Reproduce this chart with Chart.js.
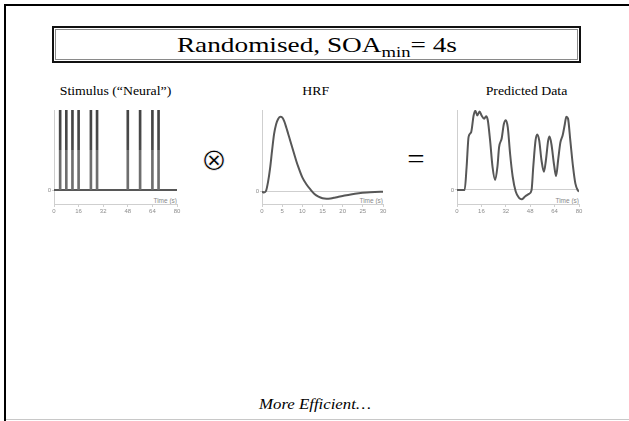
<!DOCTYPE html>
<html><head><meta charset="utf-8">
<script src="https://cdn.jsdelivr.net/npm/chart.js@4.4.1/dist/chart.umd.min.js"></script>
<style>
html,body{margin:0;padding:0;background:#fff;width:629px;height:421px;overflow:hidden;}
.abs{position:absolute;}
#lborder{left:4px;top:4px;width:2px;height:417px;background:#000;}
#tborder{left:4px;top:4px;width:625px;height:2px;background:#000;}
#bborder{left:6px;top:419px;width:623px;height:1px;background:#c8c8c8;}
#titlebox{left:52px;top:26px;width:529px;height:37px;box-sizing:border-box;border:2px solid #111;background:#fff;}
#titleinner{position:absolute;left:1px;top:1px;right:1px;bottom:1px;border:1px solid #8a8a8a;}
.serif{font-family:"Liberation Serif","Times New Roman",serif;color:#000;white-space:nowrap;}
#title{left:0;width:529px;top:26px;text-align:center;font-size:22px;line-height:37px;}
#title span.t{display:inline-block;transform:scaleX(1.24);}
#title sub{font-size:15px;vertical-align:-5px;line-height:0;}
.sub{font-size:12px;top:84px;text-align:center;width:160px;}
.sub span{display:inline-block;transform:scaleX(1.15);}
.time{font-family:"Liberation Sans",Arial,sans-serif;font-size:6.5px;color:#888;text-align:right;width:40px;top:197px;}
#foot{top:396px;left:0;width:629px;text-align:center;font-size:15px;font-style:italic;}
#foot span{display:inline-block;transform:scaleX(1.12);}
#otimes{left:201px;top:139px;font-family:'DejaVu Sans';font-weight:200;font-size:31px;line-height:40px;color:#000;-webkit-text-stroke:0.7px #fff;}
canvas{position:absolute;}
</style></head>
<body>
<div id="lborder" class="abs"></div>
<div id="tborder" class="abs"></div>
<div id="bborder" class="abs"></div>
<div id="titlebox" class="abs"><div id="titleinner"></div></div>
<div id="title" class="abs serif" style="left:52px"><span class="t">Randomised, SOA<sub>min</sub>= 4s</span></div>
<div class="abs serif sub" style="left:35px"><span>Stimulus (“Neural”)</span></div>
<div class="abs serif sub" style="left:236px"><span>HRF</span></div>
<div class="abs serif sub" style="left:446px"><span>Predicted Data</span></div>
<div id="otimes" class="abs">⊗</div>
<div class="abs serif" style="left:408px;top:142px;font-size:28px;line-height:34px;transform:scaleX(1.1);">=</div>
<div class="abs time" style="left:137px">Time (s)</div>
<div class="abs time" style="left:343px">Time (s)</div>
<div class="abs time" style="left:539px">Time (s)</div>
<div id="foot" class="abs serif"><span>More Efficient…</span></div>

<canvas id="c1" width="153" height="120" style="left:34px;top:100px;width:153px;height:120px"></canvas>
<canvas id="c2" width="151" height="120" style="left:242px;top:100px;width:151px;height:120px"></canvas>
<canvas id="c3" width="152" height="120" style="left:437px;top:100px;width:152px;height:120px"></canvas>

<script>
// ---- data ----
const stimTicks = [0, 16, 32, 48, 64, 80];
const stimOnsets = [4, 8, 12, 16, 24, 28, 48, 56, 64, 68];
const stimHeight = [1, 1, 1, 1, 1, 1, 1, 1, 1, 1];

const hrfTicks = [0, 5, 10, 15, 20, 25, 30];
const hrfTime = [0, 0.5, 1, 1.5, 2, 2.5, 3, 3.5, 4, 4.5, 5, 5.5, 6, 6.5, 7, 7.5, 8, 8.5, 9, 10, 11, 12, 13, 14, 15, 16, 17, 18, 19, 20, 22, 24, 26, 28, 30];
const hrfValue = [0, -0.01, 0.01, 0.13, 0.31, 0.55, 0.77, 0.9, 0.97, 1.0, 0.99, 0.94, 0.86, 0.77, 0.68, 0.59, 0.5, 0.41, 0.33, 0.19, 0.1, 0.03, -0.03, -0.067, -0.088, -0.094, -0.09, -0.08, -0.068, -0.057, -0.036, -0.02, -0.01, -0.004, 0];

const predTicks = [0, 16, 32, 48, 64, 80];
const predTime = [0, 5, 6.3, 7.6, 9.3, 10.9, 12, 13.3, 14.8, 16.1, 17.8, 19.1, 20.2, 21.7, 23.3, 25, 26.5, 27.6, 29.3, 30.7, 32, 33.3, 34.8, 36.5, 38.5, 40.7, 42.4, 44.6, 47.2, 48.9, 50, 51.5, 52.6, 53.9, 55.4, 57, 58.3, 59.8, 60.7, 61.9, 63.7, 65, 66.3, 67.8, 69.3, 70.7, 71.7, 72.8, 74.3, 76.1, 77.6, 79.3, 80];
const predValue = [0, 0, 0.29, 0.67, 0.73, 0.94, 1.0, 0.94, 0.99, 0.94, 0.9, 0.93, 0.88, 0.625, 0.29, 0.125, 0.29, 0.54, 0.65, 0.83, 0.88, 0.79, 0.46, 0.17, -0.02, -0.1, -0.117, -0.083, -0.05, 0, 0.29, 0.625, 0.7, 0.625, 0.375, 0.23, 0.375, 0.625, 0.675, 0.58, 0.31, 0.175, 0.375, 0.6, 0.69, 0.83, 0.925, 0.9, 0.625, 0.29, 0.083, -0.008, -0.02];

// ---- helpers ----
const LINE = '#575757';
const AXIS = '#cfcfcf';
const TICKFONT = {family: 'Liberation Sans, Arial, sans-serif', size: 6};

function makeOptions(xTicks, yMin, yMax) {
  return {
    responsive: false, animation: false,
    layout: {padding: {top: 10, right: 10, left: 0, bottom: 0}},
    plugins: {legend: {display: false}, tooltip: {enabled: false}},
    scales: {
      x: {
        type: 'linear', min: xTicks[0], max: xTicks[xTicks.length - 1], offset: false,
        afterBuildTicks: s => { s.ticks = xTicks.map(v => ({value: v})); },
        afterFit: s => { s.height = 16; },
        grid: {display: true, drawOnChartArea: false, drawTicks: true, tickLength: 3, color: AXIS, offset: false},
        border: {display: true, color: AXIS, width: 1},
        ticks: {font: TICKFONT, color: '#8c8c8c', padding: 1, maxRotation: 0, autoSkip: false}
      },
      y: {
        type: 'linear', min: yMin, max: yMax,
        afterBuildTicks: s => { s.ticks = [{value: 0}]; },
        afterFit: s => { s.width = 20; },
        grid: {display: true, drawOnChartArea: true, drawTicks: true, tickLength: 2, color: AXIS},
        border: {display: true, color: AXIS, width: 1},
        ticks: {font: TICKFONT, color: '#8c8c8c', padding: 1}
      }
    }
  };
}

function stimColor(ctx) {
  const chart = ctx.chart;
  const y = chart.scales.y;
  if (!y || !chart.chartArea) return LINE;
  const top = y.getPixelForValue(1), bot = y.getPixelForValue(0);
  const g = chart.ctx.createLinearGradient(0, top, 0, bot);
  g.addColorStop(0, '#444444');
  g.addColorStop(0.5, '#4a4a4a');
  g.addColorStop(0.5, '#6e6e6e');
  g.addColorStop(1, '#6e6e6e');
  return g;
}

// Chart 1: stimulus
new Chart(document.getElementById('c1'), {
  data: {
    datasets: [
      {type: 'bar', data: stimOnsets.map((t, i) => ({x: t, y: stimHeight[i]})),
       backgroundColor: stimColor, borderWidth: 0, barThickness: 2, grouped: false},
      {type: 'line', data: [{x: stimTicks[0], y: 0}, {x: stimTicks[stimTicks.length - 1], y: 0}],
       borderColor: LINE, borderWidth: 2, pointRadius: 0}
    ]
  },
  options: makeOptions(stimTicks, -0.175, 1)
});

// Chart 2: HRF
new Chart(document.getElementById('c2'), {
  type: 'line',
  data: {datasets: [{data: hrfTime.map((t, i) => ({x: t, y: hrfValue[i]})),
    borderColor: LINE, borderWidth: 2, pointRadius: 0, cubicInterpolationMode: 'monotone'}]},
  options: makeOptions(hrfTicks, -0.164, 1.089)
});

// Chart 3: predicted
new Chart(document.getElementById('c3'), {
  type: 'line',
  data: {datasets: [{data: predTime.map((t, i) => ({x: t, y: predValue[i]})),
    borderColor: LINE, borderWidth: 2, pointRadius: 0, cubicInterpolationMode: 'monotone'}]},
  options: makeOptions(predTicks, -0.177, 1.009)
});
</script>
</body></html>
